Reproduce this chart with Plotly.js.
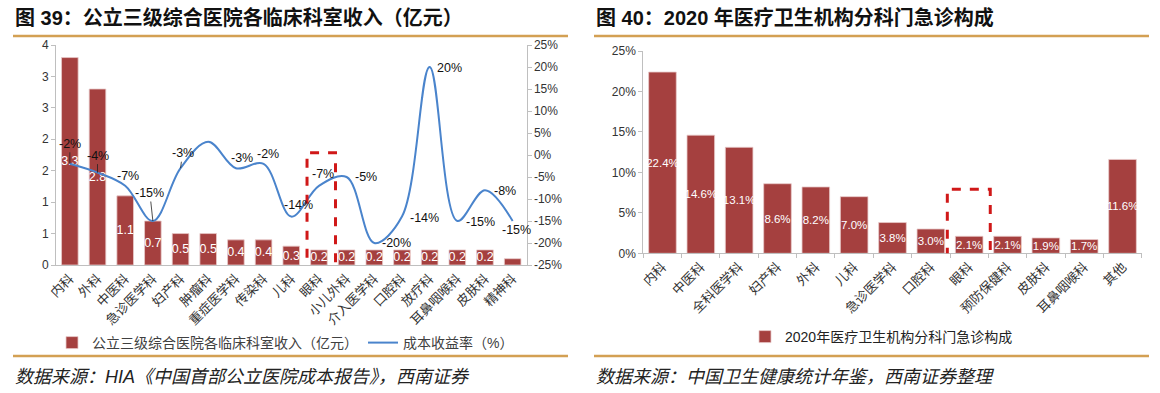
<!DOCTYPE html>
<html>
<head>
<meta charset="utf-8">
<script src="https://cdn.plot.ly/plotly-3.0.1.min.js"></script>
<style>html,body{margin:0;padding:0;background:#fff;}#chart{width:1160px;height:393px;}</style>
</head>
<body>
<div id="chart"></div>
<script>
// ---- Chart 39 data ----
const deptsA = ['内科','外科','中医科','急诊医学科','妇产科','肿瘤科','重症医学科','传染科','儿科','眼科','小儿外科','介入医学科','口腔科','放疗科','耳鼻咽喉科','皮肤科','精神科'];
const incomeA = [3.3, 2.8, 1.1, 0.7, 0.5, 0.5, 0.4, 0.4, 0.3, 0.24, 0.24, 0.24, 0.24, 0.24, 0.24, 0.24, 0.1];
const rateA = [-2, -4, -7, -15, -3, 3, -3, -2, -14, -7, -5, -20, -14, 20, -15, -8, -15];
const leftTickVals = [0, 0.5, 1, 1.5, 2, 2.5, 3, 3.5];
const leftTickText = ['0','1','1','2','2','3','3','4'];
const rightTickVals = [-25,-20,-15,-10,-5,0,5,10,15,20,25];

// ---- Chart 40 data ----
const deptsB = ['内科','中医科','全科医学科','妇产科','外科','儿科','急诊医学科','口腔科','眼科','预防保健科','皮肤科','耳鼻咽喉科','其他'];
const shareB = [22.4, 14.6, 13.1, 8.6, 8.2, 7.0, 3.8, 3.0, 2.1, 2.1, 1.9, 1.7, 11.6];
const shareTicks = [0,5,10,15,20,25];

const W = 1160, H = 393;
const px = v => v / W;
const py = v => 1 - v / H;

const CJK = "'Liberation Sans', Arial, 'Noto Sans CJK SC', sans-serif";
const BAR = '#A5403F';
const LINE = '#4A84CC';
const GOLD = '#D3A053';

const barTextA = incomeA.map(v => v >= 0.2 ? v.toFixed(1) : '');

// label placement (pixel offsets of the rate labels, style only)
const labelDX = [0, 0, 3, -3, 2, 0, 6, 4, 7, 4, 19, 22, 23, 20, 23, 20, 4];
const labelDY = [-20, -17, -10, -28, -15, 0, -10, -10, -12, -12, 0, 0, 1, 1, 1, 1, 9];
const leader = [true, true, false, true, true, false, false, false, false, false, false, false, false, false, false, false, false];

const traces = [
  {
    type: 'bar', x: deptsA, y: incomeA, xaxis: 'x', yaxis: 'y',
    name: '公立三级综合医院各临床科室收入（亿元）',
    marker: {color: BAR, line: {color: '#E9CACA', width: 0.8}},
    width: 0.6,
    text: barTextA, textposition: 'inside', insidetextanchor: 'middle', constraintext: 'none', textangle: 0,
    textfont: {color: '#fff', size: 12.5, family: CJK},
    legend: 'legend', cliponaxis: false
  },
  {
    type: 'scatter', mode: 'lines', x: deptsA, y: rateA, xaxis: 'x', yaxis: 'y2',
    name: '成本收益率（%）',
    line: {color: LINE, width: 2, shape: 'spline', smoothing: 1.0},
    legend: 'legend', cliponaxis: false
  },
  {
    type: 'bar', x: deptsB, y: shareB, xaxis: 'x2', yaxis: 'y3',
    name: '2020年医疗卫生机构分科门急诊构成',
    marker: {color: BAR, line: {color: '#E9CACA', width: 0.8}},
    width: 0.72,
    text: shareB.map(v => v.toFixed(1) + '%'), textposition: 'inside', insidetextanchor: 'middle', constraintext: 'none', textangle: 0,
    textfont: {color: '#fff', size: 11.5, family: CJK},
    legend: 'legend2'
  }
];

const eyeA = deptsA.indexOf('眼科');
const eyeB = deptsB.indexOf('眼科');

const rateAnnotations = rateA.map((v, i) => i === 5 ? null : ({
  xref: 'x', yref: 'y2', x: deptsA[i], y: v,
  text: v + '%', showarrow: true, ax: labelDX[i], ay: labelDY[i],
  arrowhead: 0, arrowwidth: 0.8, standoff: 0, startstandoff: 0,
  arrowcolor: leader[i] ? '#222' : 'rgba(0,0,0,0)',
  font: {size: 12.5, color: '#111'}
})).filter(a => a);

const layout = {
  width: W, height: H,
  margin: {l: 0, r: 0, t: 0, b: 0},
  paper_bgcolor: '#fff', plot_bgcolor: 'rgba(0,0,0,0)',
  font: {family: CJK, color: '#333', size: 12},
  showlegend: true,
  xaxis: {
    domain: [px(56), px(526.5)], anchor: 'y',
    type: 'category', range: [-0.5, deptsA.length - 0.5],
    showline: true, linecolor: '#BFBFBF', linewidth: 1,
    ticks: '', tickangle: -45, tickfont: {size: 13, color: '#333'},
    showgrid: false, zeroline: false, fixedrange: true
  },
  yaxis: {
    domain: [py(265), py(45)], anchor: 'x',
    range: [0, 3.5], tickmode: 'array', tickvals: leftTickVals, ticktext: leftTickText,
    showline: true, linecolor: '#BFBFBF', linewidth: 1,
    ticks: 'outside', ticklen: 4, tickcolor: '#BFBFBF',
    tickfont: {size: 12, color: '#333'},
    showgrid: false, zeroline: false
  },
  yaxis2: {
    overlaying: 'y', side: 'right', anchor: 'x',
    range: [-25, 25], tickmode: 'array', tickvals: rightTickVals, ticktext: rightTickVals.map(v => v + '%'),
    showline: true, linecolor: '#BFBFBF', linewidth: 1,
    ticks: 'outside', ticklen: 4, tickcolor: '#BFBFBF',
    tickfont: {size: 12, color: '#333'},
    showgrid: false, zeroline: false
  },
  xaxis2: {
    domain: [px(643.3), px(1141.7)], anchor: 'y3',
    type: 'category', range: [-0.5, deptsB.length - 0.5],
    showline: true, linecolor: '#BFBFBF', linewidth: 1,
    ticks: 'outside', tickson: 'boundaries', ticklen: 4, tickcolor: '#BFBFBF',
    tickangle: -45, tickfont: {size: 13, color: '#333'},
    showgrid: false, zeroline: false
  },
  yaxis3: {
    domain: [py(253.3), py(51)], anchor: 'x2',
    range: [0, 25], tickmode: 'array', tickvals: shareTicks, ticktext: shareTicks.map(v => v + '%'),
    showline: true, linecolor: '#BFBFBF', linewidth: 1,
    ticks: 'outside', ticklen: 4, tickcolor: '#BFBFBF',
    tickfont: {size: 12, color: '#333'},
    showgrid: false, zeroline: false
  },
  legend: {
    orientation: 'h', x: px(52), y: py(343), xanchor: 'left', yanchor: 'middle',
    font: {size: 14, color: '#404040'}, bgcolor: 'rgba(0,0,0,0)',
    itemwidth: 30, tracegroupgap: 0, traceorder: 'normal'
  },
  legend2: {
    orientation: 'h', x: px(745), y: py(337), xanchor: 'left', yanchor: 'middle',
    font: {size: 14, color: '#222'}, bgcolor: 'rgba(0,0,0,0)', itemwidth: 30
  },
  shapes: [
    {type: 'line', xref: 'paper', yref: 'paper', x0: px(13), x1: px(568), y0: py(36), y1: py(36), line: {color: GOLD, width: 2.5}},
    {type: 'line', xref: 'paper', yref: 'paper', x0: px(594), x1: px(1149), y0: py(36), y1: py(36), line: {color: GOLD, width: 2.5}},
    {type: 'line', xref: 'paper', yref: 'paper', x0: px(13), x1: px(568), y0: py(356), y1: py(356), line: {color: GOLD, width: 2.5}},
    {type: 'line', xref: 'paper', yref: 'paper', x0: px(594), x1: px(1149), y0: py(356), y1: py(356), line: {color: GOLD, width: 2.5}},
    {type: 'rect', xref: 'x', yref: 'y2', x0: eyeA - 0.43, x1: eyeA + 0.6, y0: -26.1, y1: 0.5,
      line: {color: '#D01818', width: 3, dash: 'dash'}, fillcolor: 'rgba(0,0,0,0)'},
    {type: 'rect', xref: 'x2', yref: 'y3', x0: eyeB - 0.57, x1: eyeB + 0.55, y0: -0.95, y1: 7.9,
      line: {color: '#D01818', width: 3, dash: 'dash'}, fillcolor: 'rgba(0,0,0,0)'}
  ],
  annotations: [
    {xref: 'paper', yref: 'paper', x: px(13), y: py(17), xanchor: 'left', yanchor: 'middle', showarrow: false,
      text: '<b>图 39：公立三级综合医院各临床科室收入（亿元）</b>', font: {size: 20, color: '#111'}},
    {xref: 'paper', yref: 'paper', x: px(594), y: py(17), xanchor: 'left', yanchor: 'middle', showarrow: false,
      text: '<b>图 40：2020 年医疗卫生机构分科门急诊构成</b>', font: {size: 20, color: '#111'}},
    {xref: 'paper', yref: 'paper', x: px(13), y: py(377), xanchor: 'left', yanchor: 'middle', showarrow: false,
      text: '数据来源：HIA《中国首部公立医院成本报告》，西南证券', font: {size: 18, color: '#222', style: 'italic'}},
    {xref: 'paper', yref: 'paper', x: px(594), y: py(377), xanchor: 'left', yanchor: 'middle', showarrow: false,
      text: '数据来源：中国卫生健康统计年鉴，西南证券整理', font: {size: 18, color: '#222', style: 'italic'}}
  ].concat(rateAnnotations)
};

Plotly.newPlot('chart', traces, layout, {staticPlot: true, displayModeBar: false});
</script>
</body>
</html>
